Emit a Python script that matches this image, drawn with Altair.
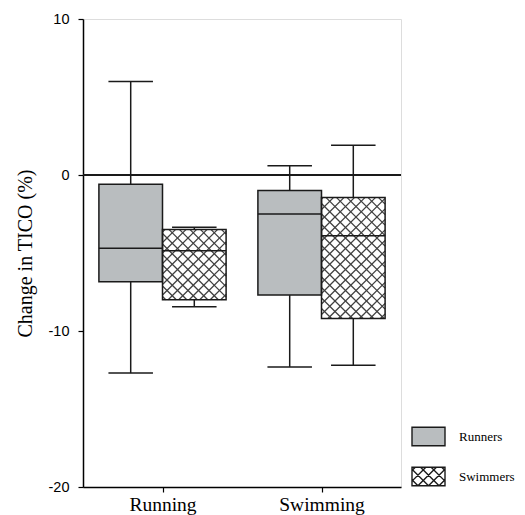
import json
import altair as alt
import pandas as pd

# ---------------- data ----------------
categories = ["Running", "Swimming"]
groups = ["Runners", "Swimmers"]
box_cat = ["Running", "Running", "Swimming", "Swimming"]
box_group = ["Runners", "Swimmers", "Runners", "Swimmers"]
upper = [6.0, -3.35, 0.6, 1.9]
q3 = [-0.6, -3.5, -1.0, -1.45]
median = [-4.7, -4.85, -2.5, -3.9]
q1 = [-6.85, -8.0, -7.7, -9.2]
lower = [-12.7, -8.45, -12.3, -12.2]
y_ticks = [10, 0, -10, -20]

# ---------------- layout / style ----------------
W, H = 318, 468
Y_DOMAIN = [-20, 10]
X_DOMAIN = [0, len(categories)]
BOX_W = 0.4
CAP_HALF = 0.14
FILLS = ["#b9bdbf", "#ffffff"]
LINE = "#1a1a1a"
HATCH_PX = 10.5

kx = W / (X_DOMAIN[1] - X_DOMAIN[0])
ky = H / (Y_DOMAIN[1] - Y_DOMAIN[0])

rows = []
for c, g, up, a, m, b, lo in zip(box_cat, box_group, upper, q3, median, q1, lower):
    center = categories.index(c) + 0.5
    x0 = center - BOX_W if g == groups[0] else center
    x1 = x0 + BOX_W
    xm = (x0 + x1) / 2
    rows.append(dict(cat=c, group=g, x0=x0, x1=x1, xm=xm, cap0=xm - CAP_HALF,
                     cap1=xm + CAP_HALF, upper=up, q3=a, median=m, q1=b, lower=lo))
df = pd.DataFrame(rows)

# cross-hatch lines for the Swimmers boxes (derived from the box extents)
hatch = []
for r in rows:
    if r["group"] != groups[1]:
        continue
    X0, X1 = r["x0"] * kx, r["x1"] * kx
    Y0, Y1 = r["q1"] * ky, r["q3"] * ky
    c = (int((Y0 - X1) // HATCH_PX)) * HATCH_PX
    while c <= Y1 - X0:
        lo_, hi_ = max(X0, Y0 - c), min(X1, Y1 - c)
        if hi_ - lo_ > 0.5:
            hatch.append(dict(xa=lo_ / kx, xb=hi_ / kx, ya=(lo_ + c) / ky, yb=(hi_ + c) / ky))
        c += HATCH_PX
    c = (int((Y0 + X0) // HATCH_PX)) * HATCH_PX
    while c <= Y1 + X1:
        lo_, hi_ = max(X0, c - Y1), min(X1, c - Y0)
        if hi_ - lo_ > 0.5:
            hatch.append(dict(xa=lo_ / kx, xb=hi_ / kx, ya=(c - lo_) / ky, yb=(c - hi_) / ky))
        c += HATCH_PX
hatch_df = pd.DataFrame(hatch)

# legend symbol shapes (unit-square custom paths)
HY = 0.56
rect_path = f"M-1,-{HY}H1V{HY}H-1Z"
hp = [rect_path]
step = 0.64
cc = -2.0
while cc <= 2.0:
    lo_, hi_ = max(-1, -HY - cc), min(1, HY - cc)
    if hi_ - lo_ > 0.05:
        hp.append(f"M{lo_:.3f},{lo_ + cc:.3f}L{hi_:.3f},{hi_ + cc:.3f}")
    lo_, hi_ = max(-1, cc - HY), min(1, cc + HY)
    if hi_ - lo_ > 0.05:
        hp.append(f"M{lo_:.3f},{cc - lo_:.3f}L{hi_:.3f},{cc - hi_:.3f}")
    cc += step
hatch_path = "".join(hp)

x_scale = alt.Scale(domain=X_DOMAIN, nice=False, zero=False)
y_scale = alt.Scale(domain=Y_DOMAIN, nice=False, zero=False)
fill_scale = alt.Scale(domain=groups, range=FILLS)
shape_scale = alt.Scale(domain=groups, range=[rect_path, hatch_path])
stroke_scale = alt.Scale(domain=groups, range=[LINE, LINE])

label_expr = f"{json.dumps(categories)}[floor(datum.value)]"
x_axis = alt.Axis(values=[i + 0.5 for i in range(len(categories))], labelExpr=label_expr,
                  title=None, grid=False, tickSize=5, labelPadding=3,
                  labelFont="Liberation Serif", labelFontSize=19.5, labelColor="black",
                  domainColor="black", tickColor="black", domainWidth=1.5, tickWidth=1.2)
y_axis = alt.Axis(values=y_ticks, title="Change in TICO (%)", grid=False, tickSize=5,
                  labelExpr="'' + datum.value",
                  labelPadding=9, labelFont="Liberation Sans", labelFontSize=14.5,
                  labelColor="black", titleFont="Liberation Serif", titleFontSize=20,
                  titleFontWeight="normal", titleColor="black", titlePadding=13,
                  domainColor="black", tickColor="black", domainWidth=1.5, tickWidth=1.2)

legend = alt.Legend(title=None, orient="none", legendX=328, legendY=400,
                    direction="vertical", symbolSize=1089, symbolStrokeColor="black",
                    symbolStrokeWidth=1.4, symbolOpacity=1, labelFont="Liberation Serif",
                    labelFontSize=13, labelColor="black", labelOffset=13, rowPadding=10,
                    padding=0)

base = alt.Chart(df)

legend_pts = base.mark_point(filled=True, size=0, strokeWidth=1.4).encode(
    x=alt.X("xm:Q", scale=x_scale, axis=x_axis),
    y=alt.Y("median:Q", scale=y_scale, axis=y_axis),
    fill=alt.Fill("group:N", scale=fill_scale, legend=legend),
    shape=alt.Shape("group:N", scale=shape_scale, legend=legend),
    stroke=alt.Stroke("group:N", scale=stroke_scale, legend=legend),
)

boxes = base.mark_rect().encode(
    x=alt.X("x0:Q", scale=x_scale, axis=x_axis),
    x2="x1:Q",
    y=alt.Y("q1:Q", scale=y_scale, axis=y_axis),
    y2="q3:Q",
    fill=alt.Fill("group:N", scale=fill_scale, legend=None),
)

hatch_layer = alt.Chart(hatch_df).mark_rule(color="#404040", strokeWidth=1.3).encode(
    x="xa:Q", x2="xb:Q", y="ya:Q", y2="yb:Q"
)

outline = base.mark_rect(fillOpacity=0, stroke=LINE, strokeWidth=1.5).encode(
    x="x0:Q", x2="x1:Q", y="q1:Q", y2="q3:Q"
)

med = base.mark_rule(color=LINE, strokeWidth=1.5).encode(
    x="x0:Q", x2="x1:Q", y="median:Q"
)
whisk_up = base.mark_rule(color=LINE, strokeWidth=1.5).encode(
    x="xm:Q", y="q3:Q", y2="upper:Q"
)
whisk_lo = base.mark_rule(color=LINE, strokeWidth=1.5).encode(
    x="xm:Q", y="q1:Q", y2="lower:Q"
)
cap_up = base.mark_rule(color=LINE, strokeWidth=1.5).encode(
    x="cap0:Q", x2="cap1:Q", y="upper:Q"
)
cap_lo = base.mark_rule(color=LINE, strokeWidth=1.5).encode(
    x="cap0:Q", x2="cap1:Q", y="lower:Q"
)
zero = alt.Chart(df).mark_rule(color=LINE, strokeWidth=1.5).encode(y=alt.datum(0))

chart = alt.layer(
    legend_pts, boxes, hatch_layer, outline, med, whisk_up, whisk_lo, cap_up, cap_lo, zero
).properties(
    width=W, height=H,
    autosize=alt.AutoSizeParams(type="none"),
    padding={"left": 75, "top": 11, "right": 116, "bottom": 28},
).configure_view(stroke="black", strokeWidth=1.5).configure(background="white")

chart.save("out.html", embed_options={"renderer": "svg", "actions": False})
